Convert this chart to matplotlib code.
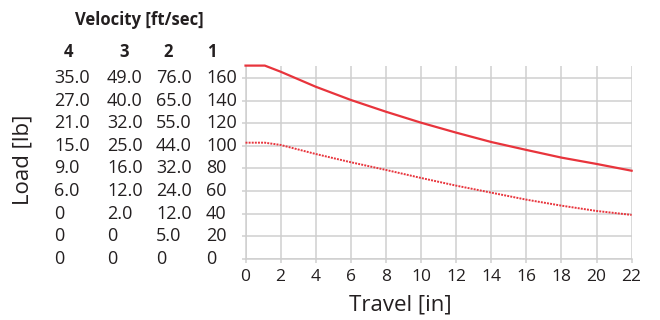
import matplotlib.pyplot as plt
import matplotlib.transforms as mtransforms

plt.rcParams['font.family'] = ['Open Sans', 'DejaVu Sans']

# travel [in] vs load [lb]
travel = [0, 1.1, 2, 4, 6, 8, 10, 12, 14, 16, 18, 20, 22]
load_solid = [171, 171, 165.6, 152.3, 140.6, 130.2, 120.5, 111.7, 103.4, 96.4, 89.6, 84.0, 78.0]
load_dotted = [102.8, 102.8, 100.8, 92.8, 85.5, 78.7, 71.6, 64.8, 58.6, 52.4, 47.1, 42.4, 38.9]

# velocity columns next to the load axis
load_ticks = [160, 140, 120, 100, 80, 60, 40, 20, 0]
col_headers = ['4', '3', '2', '1']
vel4 = ['35.0', '27.0', '21.0', '15.0', '9.0', '6.0', '0', '0', '0']
vel3 = ['49.0', '40.0', '32.0', '25.0', '16.0', '12.0', '2.0', '0', '0']
vel2 = ['76.0', '65.0', '55.0', '44.0', '32.0', '24.0', '12.0', '5.0', '0']
vel1 = ['160', '140', '120', '100', '80', '60', '40', '20', '0']
x_ticks = list(range(0, 23, 2))

red = '#e8343c'
grid_c = '#cfcfcf'
txt = '#231f20'

fig = plt.figure(figsize=(6.6, 3.2), dpi=100)
ax = fig.add_axes([0.372, 0.191, 0.585, 0.604])

ax.plot(travel, load_solid, color=red, lw=1.6, clip_on=False, zorder=3)
ax.plot(travel, load_dotted, color=red, lw=1.4, ls=(0, (1, 0.6)), clip_on=False, zorder=3)

ax.set_xlim(0, 22)
ax.set_ylim(0, 171)
ax.set_xticks(x_ticks)
ax.set_xticklabels([str(v) for v in x_ticks], fontsize=12.5, color=txt)
ax.set_yticks(load_ticks)
ax.set_yticklabels([])
ax.grid(True, color=grid_c, lw=1.1)
ax.set_axisbelow(True)
ax.tick_params(axis='both', color=grid_c, length=3, width=1.1)
ax.tick_params(axis='x', pad=4)
for s in ['top', 'right']:
    ax.spines[s].set_visible(False)
for s in ['left', 'bottom']:
    ax.spines[s].set_color(grid_c)
    ax.spines[s].set_linewidth(1.1)

# velocity table as text
tr = mtransforms.blended_transform_factory(fig.transFigure, ax.transData)
col_x = [54 / 660, 107 / 660, 156 / 660, 206 / 660]
head_x = [68 / 660, 124 / 660, 168 / 660, 212 / 660]
for cx, vals in zip(col_x, [vel4, vel3, vel2, vel1]):
    for y, v in zip(load_ticks, vals):
        ax.text(cx, y, v, transform=tr, ha='left', va='center', fontsize=13, color=txt)
for hx, h in zip(head_x, col_headers):
    fig.text(hx, 1 - 52 / 320, h, ha='center', va='center', fontsize=12, fontweight='bold', color=txt)
fig.text(139 / 660, 1 - 20 / 320, 'Velocity [ft/sec]', ha='center', va='center',
         fontsize=12, fontweight='bold', color=txt)

fig.text(23 / 660, 1 - 160 / 320, 'Load [lb]', rotation=90, ha='center', va='center',
         fontsize=16, color=txt)
fig.text(400 / 660, 1 - 305 / 320, 'Travel [in]', ha='center', va='center',
         fontsize=16, color=txt)

fig.savefig('out.png', dpi=100)
